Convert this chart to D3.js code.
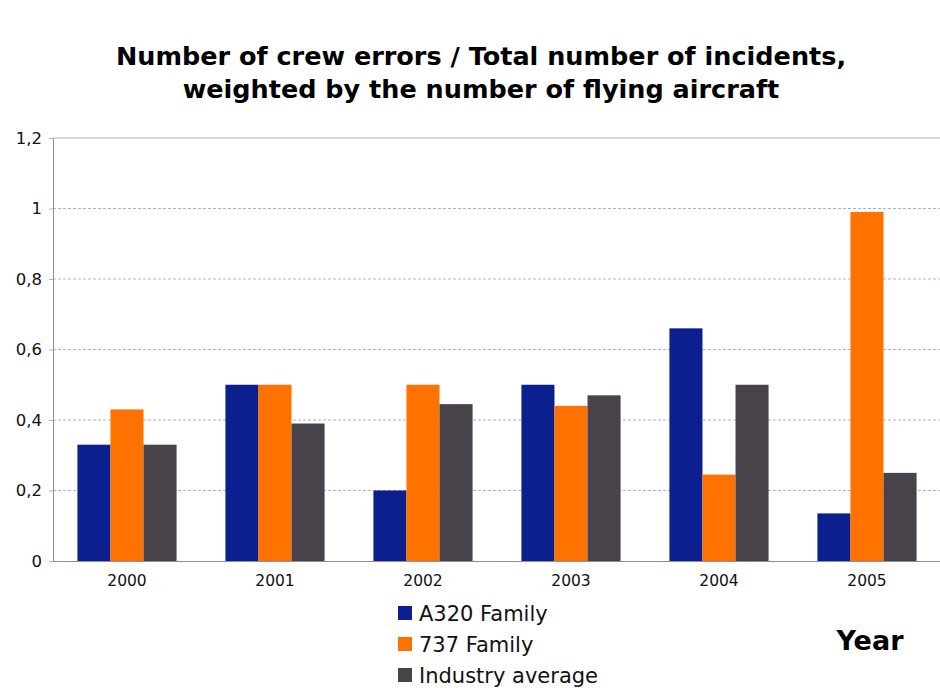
<!DOCTYPE html>
<html>
<head>
<meta charset="utf-8">
<script src="https://cdn.jsdelivr.net/npm/d3@7"></script>
<style>
  body { margin: 0; background: #fff; }
  svg { font-family: "DejaVu Sans", Verdana, sans-serif; }
</style>
</head>
<body>
<div id="wrapper"></div>
<script>
// chart values
const years = ["2000", "2001", "2002", "2003", "2004", "2005"];
const seriesNames = ["A320 Family", "737 Family", "Industry average"];
const a320 = [0.33, 0.50, 0.20, 0.50, 0.66, 0.135];
const b737 = [0.43, 0.50, 0.50, 0.44, 0.245, 0.99];
const industry = [0.33, 0.39, 0.445, 0.47, 0.50, 0.25];
const yTicks = [0, 0.2, 0.4, 0.6, 0.8, 1, 1.2];
const colors = ["#0b1f8e", "#ff7200", "#48434a"];

const seriesValues = [a320, b737, industry];

const dimension = {
    width: 940,
    height: 688,
    margin: { top: 138, left: 53, bottom: 127, right: -1 }
};
dimension.boundedWidth = dimension.width - dimension.margin.left - dimension.margin.right;
dimension.boundedHeight = dimension.height - dimension.margin.top - dimension.margin.bottom;

const svg = d3.select("#wrapper").append("svg")
    .attr("width", dimension.width)
    .attr("height", dimension.height);

// title
const title = svg.append("text")
    .attr("text-anchor", "middle")
    .attr("font-weight", "bold")
    .attr("font-size", 25.5)
    .attr("fill", "#000");
title.append("tspan").attr("x", 481).attr("y", 65).text("Number of crew errors / Total number of incidents,");
title.append("tspan").attr("x", 481).attr("y", 98).text("weighted by the number of flying aircraft");

const bounded = svg.append("g")
    .attr("transform", `translate(${dimension.margin.left}, ${dimension.margin.top})`);

const yScale = d3.scaleLinear()
    .domain([0, 1.2])
    .range([dimension.boundedHeight, 0]);

const xScale = d3.scaleBand()
    .domain(years)
    .range([0, dimension.boundedWidth])
    .paddingInner(0.33)
    .paddingOuter(0.165);

const xInner = d3.scaleBand()
    .domain(d3.range(seriesNames.length))
    .range([0, xScale.bandwidth()]);

// gridlines (dotted)
bounded.append("g")
    .selectAll("line")
    .data(yTicks.filter(d => d > 0 && d < 1.2))
    .join("line")
    .attr("x1", 0)
    .attr("x2", dimension.boundedWidth)
    .attr("y1", d => yScale(d))
    .attr("y2", d => yScale(d))
    .attr("stroke", "#b3b0c4")
    .attr("stroke-width", 1)
    .attr("stroke-dasharray", "3,2");

// top border
bounded.append("line")
    .attr("x1", 0).attr("x2", dimension.boundedWidth)
    .attr("y1", 0).attr("y2", 0)
    .attr("stroke", "#b5b2c2");

// bars
years.forEach((year, i) => {
    bounded.append("g")
        .attr("transform", `translate(${xScale(year)}, 0)`)
        .selectAll("rect")
        .data(seriesValues.map((s, k) => ({ k: k, v: s[i] })))
        .join("rect")
        .attr("x", d => xInner(d.k))
        .attr("y", d => yScale(d.v))
        .attr("width", xInner.bandwidth())
        .attr("height", d => dimension.boundedHeight - yScale(d.v))
        .attr("fill", d => colors[d.k]);
});

// y axis
const yAxis = bounded.append("g")
    .call(d3.axisLeft(yScale)
        .tickValues(yTicks)
        .tickSize(4)
        .tickFormat(d => String(d).replace(".", ",")));
yAxis.select(".domain").attr("stroke", "#8f8ca0");
yAxis.selectAll(".tick line").attr("stroke", "#b5b2c2");
yAxis.selectAll(".tick text")
    .attr("x", -11)
    .attr("font-size", 16.5)
    .attr("fill", "#111")
    .attr("font-family", "DejaVu Sans, sans-serif");

// x axis
const xAxis = bounded.append("g")
    .attr("transform", `translate(0, ${dimension.boundedHeight})`)
    .call(d3.axisBottom(xScale).tickSize(0).tickPadding(14));
xAxis.select(".domain").attr("stroke", "#8f8ca0");
xAxis.selectAll(".tick text")
    .attr("font-size", 15.5)
    .attr("fill", "#111")
    .attr("font-family", "DejaVu Sans, sans-serif");

// legend
const legend = svg.append("g").attr("transform", "translate(398, 606)");
seriesNames.forEach((name, k) => {
    const row = legend.append("g").attr("transform", `translate(0, ${k * 31})`);
    row.append("rect")
        .attr("width", 14).attr("height", 14)
        .attr("fill", colors[k]);
    row.append("text")
        .attr("x", 21).attr("y", 15)
        .attr("font-size", 21)
        .attr("fill", "#111")
        .text(name);
});

// x axis title
svg.append("text")
    .attr("x", 870)
    .attr("y", 650)
    .attr("text-anchor", "middle")
    .attr("font-weight", "bold")
    .attr("font-size", 27)
    .text("Year");
</script>
</body>
</html>
